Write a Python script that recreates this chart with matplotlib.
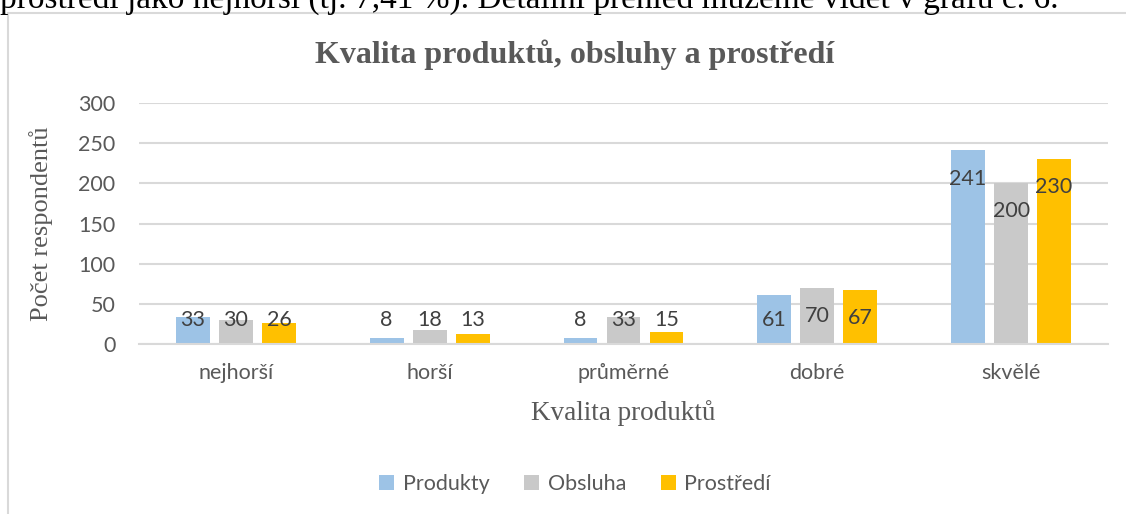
import matplotlib
matplotlib.use("Agg")
import matplotlib.pyplot as plt
from matplotlib.patches import Rectangle
import numpy as np

categories = ["nejhorší", "horší", "průměrné", "dobré", "skvělé"]
series_names = ["Produkty", "Obsluha", "Prostředí"]
produkty = [33, 8, 8, 61, 241]
obsluha = [30, 18, 33, 70, 200]
prostredi = [26, 13, 15, 67, 230]
colors = ["#9DC3E6", "#C9C9C9", "#FFC000"]

W, H = 1126, 514
fig = plt.figure(figsize=(W / 100, H / 100), dpi=100)
serif = "Liberation Serif"
sans = "Lato"
txt = "#595959"

# cut-off line of document text above the chart
fig.text(0, 1 - 8 / H, "prostředí jako nejhorší (tj. 7,41 %). Detailní přehled můžeme vidět v grafu č. 6.",
         family=serif, fontsize=24, color="black", va="baseline", ha="left")

# chart frame
fig.patches.append(Rectangle((8 / W, -0.01), 1.1, 1 - 13 / H + 0.01, transform=fig.transFigure,
                             fill=False, edgecolor="#D9D9D9", lw=1.5))

# chart title, centred on the chart frame
fig.text(575 / W, 1 - 55 / H, "Kvalita produktů, obsluhy a prostředí", family=serif, fontweight="bold",
         fontsize=23, color=txt, ha="center", va="center")

ax = fig.add_axes([139 / W, 1 - 344 / H, (1108 - 139) / W, (344 - 103) / H])
x = np.arange(len(categories))
step = 0.222
width = 0.175
data = [produkty, obsluha, prostredi]
for i, (vals, name, c) in enumerate(zip(data, series_names, colors)):
    pos = x + (i - 1) * step
    ax.bar(pos, vals, width, color=c, label=name, zorder=2)
    for p, v in zip(pos, vals):
        ax.text(p, max(v - 35, 30), str(v), ha="center", va="center",
                family=sans, fontsize=15.5, color="#404040", zorder=3)

ax.set_xlim(-0.5, 4.5)
ax.set_ylim(0, 300)
ax.set_yticks(range(0, 301, 50))
ax.yaxis.grid(True, color="#D9D9D9", lw=1.5, zorder=0)
ax.set_axisbelow(True)
for s in ["top", "right", "left"]:
    ax.spines[s].set_visible(False)
ax.spines["bottom"].set_color("#D9D9D9")
ax.spines["bottom"].set_linewidth(1.5)
ax.tick_params(length=0, labelsize=15.5, labelcolor=txt)
ax.tick_params(axis="y", pad=17)
ax.tick_params(axis="x", pad=14)
ax.set_xticks(x)
ax.set_xticklabels(categories)
for t in ax.get_xticklabels() + ax.get_yticklabels():
    t.set_family(sans)

ax.set_xlabel("Kvalita produktů", family=serif, fontsize=19.5, color=txt, labelpad=12)
ax.set_ylabel("Počet respondentů", family=serif, fontsize=19, color=txt, labelpad=18)

leg = ax.legend(loc="center", bbox_to_anchor=(575 / W, 1 - 484 / H), bbox_transform=fig.transFigure,
                ncol=3, frameon=False, handlelength=0.7, handleheight=0.7, handletextpad=0.4,
                columnspacing=1.6, prop={"family": sans, "size": 15.5})
for t in leg.get_texts():
    t.set_color(txt)

fig.savefig("out.png", dpi=100)
